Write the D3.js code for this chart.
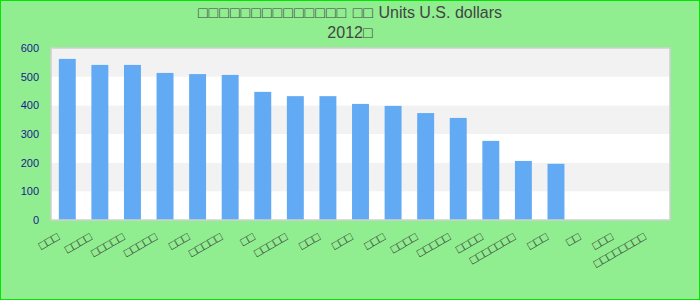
<!DOCTYPE html>
<html>
<head>
<meta charset="utf-8">
<script src="https://cdn.jsdelivr.net/npm/d3@7"></script>
<style>
    body { margin: 0; padding: 0; background: #fff; }
    svg { display: block; }
    text { font-family: "Liberation Sans", Arial, sans-serif; }
</style>
</head>
<body>
<div id="chart"></div>
<script>
// title lines (the reference shows the non-Latin characters as empty boxes)
let titleBoxes = ["□□□□□□□□□□□□□□ □□", "2012□"];
let titleRest = [" Units U.S. dollars", ""];

// categories, as they appear in the reference
let categories = [
    "□□□", "□□□□", "□□□□□", "□□□□□", "□□□", "□□□□□", "□□", "□□□□□", "□□□", "□□□",
    "□□□", "□□□□", "□□□□□", "□□□□", "□□□□□□□", "□□□", "□□", "□□□", "□□□□□□□□"
];

// values
let values = [562, 541, 541, 513, 509, 506, 447, 432, 432, 405, 398, 373, 356, 276, 206, 196, 0, 0, 0];

let yTicks = [0, 100, 200, 300, 400, 500, 600];

let width = 700, height = 300;
let margin = {top: 48, right: 30, bottom: 80, left: 51};
let plotW = width - margin.left - margin.right;
let plotH = height - margin.top - margin.bottom;

let svg = d3.select("#chart").append("svg")
    .attr("width", width)
    .attr("height", height);

// background + outer border
svg.append("rect")
    .attr("x", 0.5).attr("y", 0.5)
    .attr("width", width - 1).attr("height", height - 1)
    .attr("fill", "#90ee90")
    .attr("stroke", "#00e600")
    .attr("stroke-width", 1);

// title
let title = svg.append("g").selectAll("text")
    .data(titleBoxes)
    .join("text")
    .attr("x", width / 2)
    .attr("y", (d, i) => 18 + i * 20)
    .attr("text-anchor", "middle")
    .attr("font-size", 16)
    .attr("fill", "#444");

title.append("tspan")
    .attr("letter-spacing", (d, i) => i === 0 ? 1 : 0)
    .text(d => d);

title.append("tspan")
    .text((d, i) => titleRest[i]);

let g = svg.append("g")
    .attr("transform", "translate(" + margin.left + "," + margin.top + ")");

let xScale = d3.scaleBand()
    .domain(d3.range(categories.length))
    .range([0, plotW])
    .paddingInner(0.48)
    .paddingOuter(0.24);

let yScale = d3.scaleLinear()
    .domain([0, 600])
    .range([plotH, 0]);

// plot area with alternating bands
g.append("rect")
    .attr("width", plotW)
    .attr("height", plotH)
    .attr("fill", "#fff");

g.selectAll(".band")
    .data(yTicks.slice(0, -1))
    .join("rect")
    .attr("class", "band")
    .attr("x", 0)
    .attr("y", d => yScale(d + 100))
    .attr("width", plotW)
    .attr("height", d => yScale(d) - yScale(d + 100))
    .attr("fill", (d, i) => i % 2 === 1 ? "#f2f2f2" : "#fff");

// bars
g.selectAll(".bar")
    .data(values)
    .join("rect")
    .attr("class", "bar")
    .attr("x", (d, i) => xScale(i))
    .attr("y", d => yScale(d))
    .attr("width", xScale.bandwidth())
    .attr("height", d => plotH - yScale(d))
    .attr("fill", "#63aaf5");

// plot border
g.append("rect")
    .attr("width", plotW)
    .attr("height", plotH)
    .attr("fill", "none")
    .attr("stroke", "#d0d0d0")
    .attr("stroke-width", 1.5);

// y axis labels (no line, no ticks)
let yAxis = d3.axisLeft(yScale)
    .tickValues(yTicks)
    .tickSize(0)
    .tickPadding(12);

g.append("g")
    .call(yAxis)
    .call(a => a.select(".domain").remove())
    .call(a => a.selectAll("text")
        .attr("font-family", "'Liberation Sans', Arial, sans-serif")
        .attr("font-size", 11)
        .attr("fill", "#1a1a8c"));

// x labels, rotated
g.selectAll(".xlabel")
    .data(categories)
    .join("text")
    .attr("class", "xlabel")
    .attr("transform", (d, i) => "translate(" + (xScale(i) + xScale.bandwidth() / 2 - 7) + "," + (plotH + 19) + ") rotate(-30)")
    .attr("text-anchor", "end")
    .attr("font-size", 12)
    .attr("fill", "#333")
    .text(d => d);
</script>
</body>
</html>
